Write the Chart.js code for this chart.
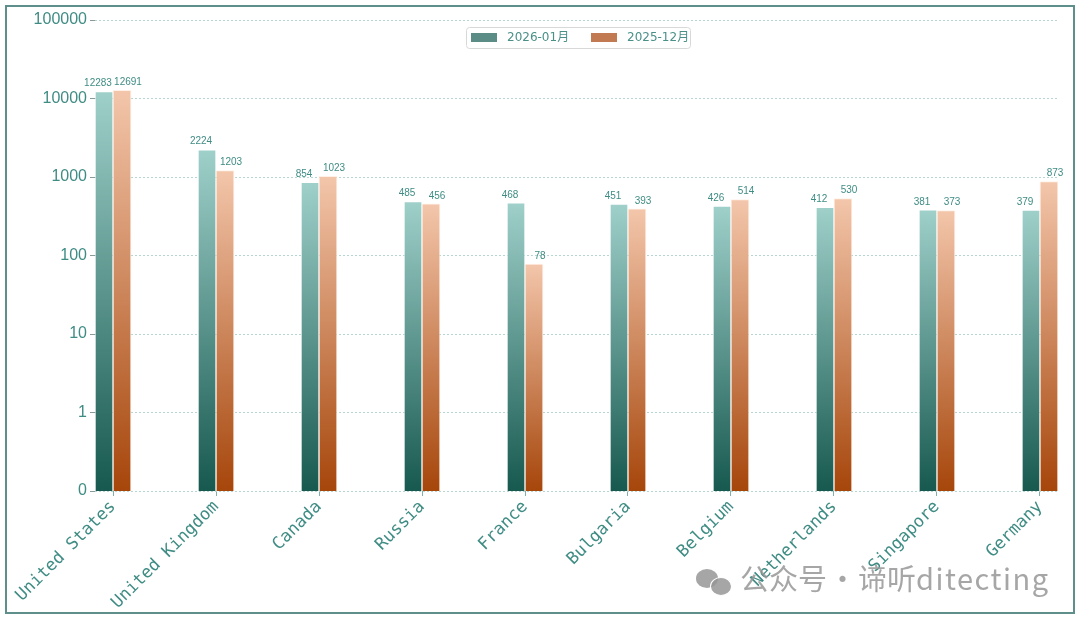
<!DOCTYPE html>
<html>
<head>
<meta charset="utf-8">
<script src="https://cdn.jsdelivr.net/npm/chart.js@4"></script>
<style>
  html, body { margin: 0; padding: 0; background: #fff; }
  #wrap { position: relative; width: 1080px; height: 621px; }
  #frame { position: absolute; left: 5px; top: 5px; width: 1066px; height: 605px; border: 2px solid #5f8f8a; pointer-events: none; }
  #wm { position: absolute; left: 696px; top: 559px; font-family: "Noto Sans CJK SC", sans-serif; font-size: 29px; color: rgba(150,150,150,0.85); line-height: 36px; white-space: nowrap; }
  #wm .lat { letter-spacing: 1.5px; }
  #wm .dot { margin: 0 1px; }
  #wm .ic { display: inline-block; position: relative; width: 38px; height: 30px; vertical-align: middle; margin-right: 6px; }
  #wm .c1 { position: absolute; left: 0; top: 2px; width: 22px; height: 19px; border-radius: 50%; background: rgba(150,150,150,0.85); }
  #wm .c2 { position: absolute; left: 14px; top: 10px; width: 20px; height: 17px; border-radius: 50%; background: rgba(150,150,150,0.85); border: 1px solid #fff; }
</style>
</head>
<body>
<div id="wrap">
  <canvas id="c" width="1080" height="621"></canvas>
  <div id="frame"></div>
  <div id="wm"><span class="ic"><span class="c1"></span><span class="c2"></span></span>公众号<span class="dot">·</span>谛听<span class="lat">ditecting</span></div>
</div>
<script>
const categories = ["United States", "United Kingdom", "Canada", "Russia", "France", "Bulgaria", "Belgium", "Netherlands", "Singapore", "Germany"];
const seriesNames = ["2026-01月", "2025-12月"];
const jan2026 = [12283, 2224, 854, 485, 468, 451, 426, 412, 381, 379];
const dec2025 = [12691, 1203, 1023, 456, 78, 393, 514, 530, 373, 873];
const yTicks = [0.1, 1, 10, 100, 1000, 10000, 100000];

const TEXT = '#3f8c84';

function gradFill(topColor, bottomColor, solid) {
  return function (ctx) {
    const chart = ctx.chart;
    if (!chart.chartArea || ctx.type !== 'data' || !chart.scales.y) return solid;
    const y = chart.scales.y;
    const top = y.getPixelForValue(ctx.raw.y);
    const bottom = y.getPixelForValue(0.1);
    if (!isFinite(top) || !isFinite(bottom) || top === bottom) return solid;
    const g = chart.ctx.createLinearGradient(0, top, 0, bottom);
    g.addColorStop(0, topColor);
    g.addColorStop(1, bottomColor);
    return g;
  };
}

const valueLabels = {
  id: 'valueLabels',
  afterDatasetsDraw(chart) {
    const ctx = chart.ctx;
    ctx.save();
    ctx.font = '10px "Liberation Sans", sans-serif';
    ctx.fillStyle = TEXT;
    ctx.textAlign = 'center';
    ctx.textBaseline = 'bottom';
    chart.data.datasets.forEach((ds, di) => {
      const meta = chart.getDatasetMeta(di);
      const off = di === 0 ? -6 : 6;
      meta.data.forEach((bar, i) => {
        ctx.fillText(String(ds.data[i].y), bar.x + off, bar.y - 3);
      });
    });
    ctx.restore();
  }
};

const boxLegend = {
  id: 'boxLegend',
  afterDraw(chart) {
    const ctx = chart.ctx;
    ctx.save();
    const x0 = 466, y0 = 27, w = 224, h = 21;
    ctx.fillStyle = 'rgba(255,255,255,0.9)';
    ctx.strokeStyle = '#d8d8d8';
    ctx.lineWidth = 1;
    ctx.beginPath();
    ctx.roundRect(x0 + 0.5, y0 + 0.5, w, h, 3);
    ctx.fill();
    ctx.stroke();
    const swatches = ['#5b8c86', '#c27a52'];
    const sx = [471, 591];
    ctx.font = '12px "DejaVu Sans", "Noto Sans CJK SC", sans-serif';
    ctx.textBaseline = 'middle';
    ctx.textAlign = 'left';
    chart.data.datasets.forEach((ds, i) => {
      ctx.fillStyle = swatches[i];
      ctx.fillRect(sx[i], 33, 26, 9);
      ctx.fillStyle = '#4a9088';
      ctx.fillText(ds.label, sx[i] + 36, 38);
    });
    ctx.restore();
  }
};

new Chart(document.getElementById('c'), {
  type: 'bar',
  data: {
    datasets: [
      {
        label: seriesNames[0],
        data: jan2026.map((v, i) => ({ x: i, y: v })),
        backgroundColor: gradFill('#9fd0ca', '#17594f', '#5b8c86'),
        borderColor: 'rgba(255,255,255,0.45)',
        borderWidth: 1,
        barThickness: 18
      },
      {
        label: seriesNames[1],
        data: dec2025.map((v, i) => ({ x: i, y: v })),
        backgroundColor: gradFill('#f3c6ab', '#a6460b', '#c27a52'),
        borderColor: 'rgba(255,230,215,0.6)',
        borderWidth: 1,
        barThickness: 18
      }
    ]
  },
  plugins: [valueLabels, boxLegend],
  options: {
    responsive: false,
    animation: false,
    devicePixelRatio: 1,
    layout: { padding: { left: 0, top: 20, right: 22, bottom: 0 } },
    plugins: { legend: { display: false }, tooltip: { enabled: false } },
    scales: {
      x: {
        type: 'linear',
        min: -0.175,
        max: 9.175,
        offset: false,
        afterBuildTicks(axis) { axis.ticks = categories.map((c, i) => ({ value: i })); },
        afterFit(axis) { axis.height = 130; },
        ticks: {
          autoSkip: false,
          maxRotation: 45,
          minRotation: 45,
          color: TEXT,
          padding: 1,
          font: { family: '"DejaVu Sans Mono", monospace', size: 17 },
          callback: (v) => categories[Math.round(v)] ?? ''
        },
        grid: { display: true, offset: false, drawOnChartArea: false, drawTicks: true, tickLength: 5, color: '#7fb0aa' },
        border: { display: false }
      },
      y: {
        type: 'logarithmic',
        min: 0.1,
        max: 100000,
        afterBuildTicks(axis) { axis.ticks = yTicks.map(v => ({ value: v })); },
        afterFit(axis) { axis.width = 95; },
        ticks: {
          color: TEXT,
          padding: 3,
          font: { family: '"Liberation Sans", Arial, sans-serif', size: 16 },
          callback: (v) => (v === 0.1 ? '0' : String(v))
        },
        grid: { color: '#b5d6d1', tickLength: 5, lineWidth: 1, tickColor: '#8a9a98' },
        border: { display: false, dash: [2, 2] }
      }
    }
  }
});
</script>
</body>
</html>
